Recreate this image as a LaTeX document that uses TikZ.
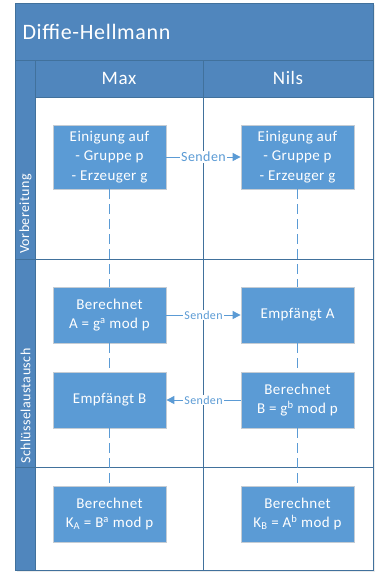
\documentclass[tikz,border=0pt]{standalone}
\usepackage{fontspec}
\setmainfont{Carlito}[LetterSpace=3]
\usetikzlibrary{arrows.meta,shadows}
\definecolor{bandblue}{RGB}{80,134,189}
\definecolor{boxblue}{RGB}{91,155,213}
\definecolor{gridblue}{RGB}{65,113,156}
\definecolor{boxedge}{RGB}{196,204,212}
\begin{document}
\begin{tikzpicture}[x=1pt,y=-1pt,
  grid/.style={draw=gridblue, line width=1pt},
  stepbox/.style={draw=boxedge, line width=0.8pt, fill=boxblue, text=white,
    minimum width=113pt, inner sep=0pt, align=center,
    font=\fontsize{15}{19.5}\selectfont,
    drop shadow={opacity=0.18, shadow xshift=1pt, shadow yshift=-1pt}},
  hdr/.style={text=white, font=\fontsize{19}{22}\selectfont},
  lane/.style={text=white, rotate=90, anchor=west, inner sep=0pt, font=\fontsize{14}{16}\selectfont},
  lifeline/.style={draw=boxblue, line width=1pt, dash pattern=on 10pt off 5pt},
  msg/.style={draw=boxblue, line width=1pt, -{Triangle[length=8pt,width=8pt]}},
  lbl/.style={fill=white, text=boxblue, inner sep=1pt, font=\fontsize{12}{14}\selectfont}
]
\useasboundingbox (0,0) rectangle (379,579);
% pool
\path[fill=white, drop shadow={opacity=0.15, shadow xshift=2pt, shadow yshift=-2pt}] (15,3) rectangle (373,570);
\fill[bandblue] (15,3) rectangle (373,97);
\fill[bandblue] (15,60) rectangle (35,570);
\draw[grid] (15,60) -- (373,60);
\draw[grid] (35,97) -- (373,97);
\draw[grid] (35,60) -- (35,570);
\draw[grid] (203,60) -- (203,570);
\draw[grid] (15,259) -- (373,259);
\draw[grid] (15,467) -- (373,467);
\draw[grid] (15,3) rectangle (373,570);
% titles
\node[anchor=west, text=white, font=\fontsize{22}{26}\selectfont] (title) at (19,32) {Diffie-Hellmann};
\node[hdr] (hmax) at (119,78) {Max};
\node[hdr] (hnils) at (288,78) {Nils};
\node[lane] (l1) at (25.5,254) {Vorbereitung};
\node[lane] (l2) at (25.5,464) {Schlüsselaustausch};
% boxes
\node[stepbox, minimum height=64pt] (m1) at (109.5,157) {Einigung auf\\- Gruppe p\\- Erzeuger g};
\node[stepbox, minimum height=64pt] (n1) at (297.5,157) {Einigung auf\\- Gruppe p\\- Erzeuger g};
\node[stepbox, minimum height=56pt] (m2) at (109.5,315) {Berechnet\\A = g\textsuperscript{a} mod p};
\node[stepbox, minimum height=56pt] (n2) at (297.5,315) {Empfängt A};
\node[stepbox, minimum height=56pt] (m3) at (109.5,400) {Empfängt B};
\node[stepbox, minimum height=56pt] (n3) at (297.5,400) {Berechnet\\B = g\textsuperscript{b} mod p};
\node[stepbox, minimum height=56pt] (m4) at (109.5,514) {Berechnet\\K\textsubscript{A} = B\textsuperscript{a} mod p};
\node[stepbox, minimum height=56pt] (n4) at (297.5,514) {Berechnet\\K\textsubscript{B} = A\textsuperscript{b} mod p};
% lifelines
\draw[lifeline] (m1.south) -- (m2.north);
\draw[lifeline] (m2.south) -- (m3.north);
\draw[lifeline] (m3.south) -- (m4.north);
\draw[lifeline] (n1.south) -- (n2.north);
\draw[lifeline] (n2.south) -- (n3.north);
\draw[lifeline] (n3.south) -- (n4.north);
% messages
\draw[msg] (m1.east) -- node[lbl, font=\fontsize{14}{16}\selectfont] (s1) {Senden} (n1.west);
\draw[msg] (m2.east) -- node[lbl] (s2) {Senden} (n2.west);
\draw[msg] (n3.west) -- node[lbl] (s3) {Senden} (m3.east);
\end{tikzpicture}
\end{document}
